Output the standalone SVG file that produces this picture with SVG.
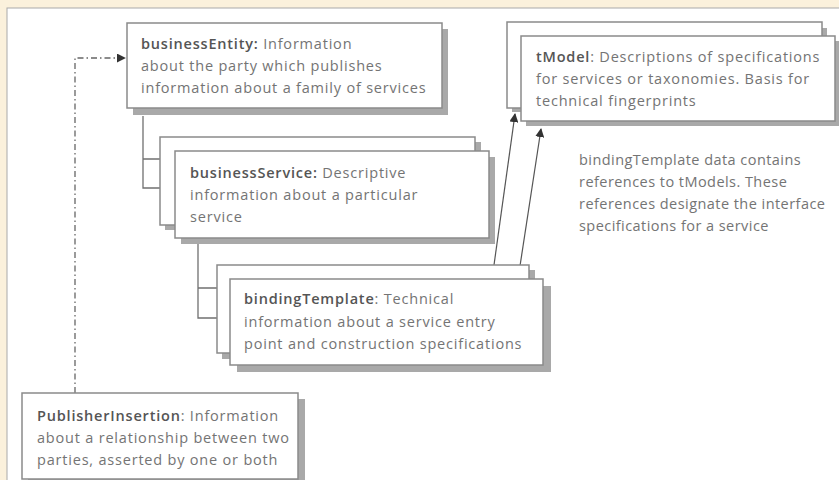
<svg xmlns="http://www.w3.org/2000/svg" width="839" height="480" viewBox="0 0 839 480">
<defs>
<style>
.box{fill:#fff;stroke:#8a8a8a;stroke-width:1.5}
.sh{fill:#a9a9a9}
.t{font-family:"Open Sans","Noto Sans",sans-serif;font-size:14.5px;letter-spacing:0.8px;fill:#747474}
.n{letter-spacing:0.45px}
.b{font-weight:600;fill:#555}
.ln{fill:none;stroke:#707070;stroke-width:1.3}
</style>
<marker id="ah" viewBox="0 0 10 10" refX="9" refY="5" markerWidth="9" markerHeight="9" markerUnits="userSpaceOnUse" orient="auto">
<path d="M0,0 L10,5 L0,10 z" fill="#333"/>
</marker>
</defs>
<rect x="0" y="0" width="839" height="480" fill="#fbf1dc"/>
<rect x="7" y="8" width="840" height="480" fill="#fff" stroke="#aaa" stroke-width="1"/>

<g id="connectors">
<path class="ln" d="M143,116 V188 H175 M143,159 H160"/>
<path class="ln" d="M198,244 V318 H230 M198,288 H217"/>
<path d="M75,393 V58 H125" fill="none" stroke="#666" stroke-width="1.3" stroke-dasharray="6,3,1.5,3" marker-end="url(#ah)"/>
<line x1="494" y1="265" x2="515" y2="114" stroke="#555" stroke-width="1.2" marker-end="url(#ah)"/>
<line x1="518" y1="279" x2="541" y2="129" stroke="#555" stroke-width="1.2" marker-end="url(#ah)"/>
</g>

<g id="businessEntity">
<rect class="sh" x="133" y="29" width="315" height="86"/>
<rect class="box" x="127" y="23" width="315" height="85"/>
<text class="t" x="141" y="49"><tspan class="b">businessEntity:</tspan> Information</text>
<text class="t" x="141" y="71">about the party which publishes</text>
<text class="t" x="141" y="93">information about a family of services</text>
</g>

<g id="businessService">
<rect class="sh" x="165" y="142" width="316" height="88"/>
<rect class="box" x="160" y="137" width="315" height="88"/>
<rect class="sh" x="181" y="157" width="314" height="87"/>
<rect class="box" x="175" y="151" width="314" height="87"/>
<text class="t" x="190" y="178"><tspan class="b">businessService:</tspan> Descriptive</text>
<text class="t" x="190" y="200">information about a particular</text>
<text class="t" x="190" y="222">service</text>
</g>

<g id="bindingTemplate">
<rect class="sh" x="222" y="270" width="313" height="89"/>
<rect class="box" x="217" y="265" width="312" height="88"/>
<rect class="sh" x="237" y="286" width="314" height="86"/>
<rect class="box" x="230" y="279" width="313" height="86"/>
<text class="t" x="244" y="304"><tspan class="b">bindingTemplate</tspan>: Technical</text>
<text class="t" x="244" y="327">information about a service entry</text>
<text class="t" x="244" y="349">point and construction specifications</text>
</g>

<g id="tModel">
<rect class="sh" x="512" y="28" width="315" height="84"/>
<rect class="box" x="507" y="22" width="315" height="86"/>
<rect class="sh" x="526" y="41" width="313" height="85"/>
<rect class="box" x="521" y="36" width="314" height="85"/>
<text class="t" x="536" y="62"><tspan class="b">tModel</tspan>: Descriptions of specifications</text>
<text class="t" x="536" y="84">for services or taxonomies. Basis for</text>
<text class="t" x="536" y="106">technical fingerprints</text>
</g>

<g id="note">
<text class="t n" x="579" y="165">bindingTemplate data contains</text>
<text class="t n" x="579" y="187">references to tModels. These</text>
<text class="t n" x="579" y="209">references designate the interface</text>
<text class="t n" x="579" y="231">specifications for a service</text>
</g>

<g id="PublisherInsertion">
<rect class="sh" x="28" y="399" width="277" height="86"/>
<rect class="box" x="22" y="393" width="276" height="86"/>
<text class="t" x="37" y="421"><tspan class="b">PublisherInsertion</tspan>: Information</text>
<text class="t" x="37" y="443">about a relationship between two</text>
<text class="t" x="37" y="465">parties, asserted by one or both</text>
</g>
</svg>
